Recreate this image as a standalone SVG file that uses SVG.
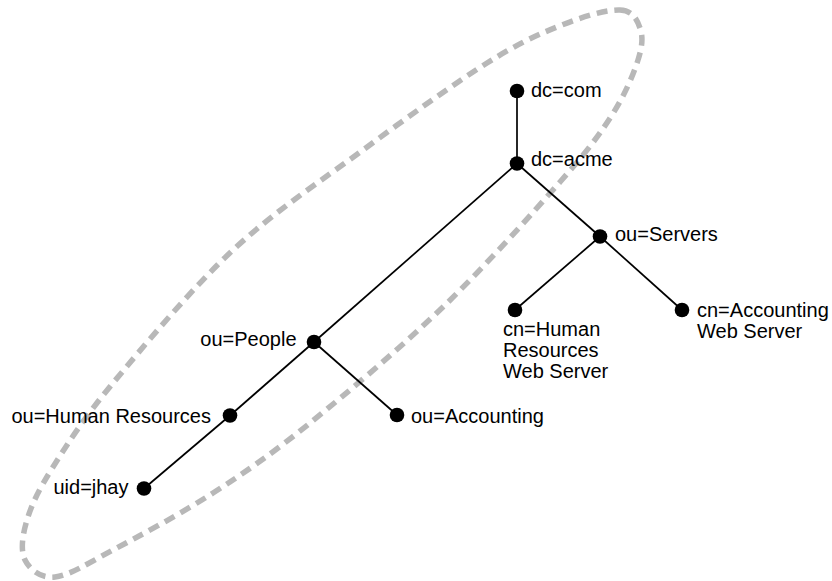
<svg xmlns="http://www.w3.org/2000/svg" width="832" height="581" viewBox="0 0 832 581">
<style>
.bg{fill:#ffffff}
.scope{fill:none;stroke:#b8b8b8;stroke-width:5.5;stroke-dasharray:11 7}
.edge{stroke:#000;stroke-width:1.7;fill:none}
.dot{fill:#000}
.lbl{font-family:"Liberation Sans",Arial,sans-serif;font-size:20px;fill:#000}
.end{text-anchor:end}
</style>
<rect class="bg" x="0" y="0" width="832" height="581"/>
<g id="scope">
<path class="scope" d="M620,10 C633,10.5 637,19.67 640,28 C643,36.33 642.67,45.5 638,60 C633.33,74.5 625,94.67 612,115 C599,135.33 588.17,150 560,182 C531.830,214 484.67,266.83 443,307 C401.33,347.17 348.33,392 310,423 C271.67,454 245.83,471.83 213,493 C180.17,514.17 139.33,536 113,550 C86.67,564 69.67,575.33 55,577 C40.33,578.67 29.67,569.5 25,560 C20.33,550.5 22.33,535.5 27,520 C31.67,504.5 38.67,489.83 53,467 C67.33,444.17 83,419.17 113,383 C143,346.83 191.33,288.83 233,250 C274.67,211.17 320.67,181.17 363,150 C405.33,118.83 453.83,83.83 487,63 C520.17,42.17 539.83,33.83 562,25 C584.17,16.17 607,9.5 620,10 Z"/>
</g>
<g id="connectors">
<line class="edge" x1="517" y1="91" x2="517" y2="163.5"/>
<line class="edge" x1="517" y1="163.5" x2="314" y2="342"/>
<line class="edge" x1="517" y1="163.5" x2="600" y2="236.5"/>
<line class="edge" x1="600" y1="236.5" x2="515" y2="310"/>
<line class="edge" x1="600" y1="236.5" x2="682" y2="310"/>
<line class="edge" x1="314" y1="342" x2="230" y2="415.5"/>
<line class="edge" x1="230" y1="415.5" x2="144" y2="488.5"/>
<line class="edge" x1="314" y1="342" x2="397" y2="415"/>
</g>
<g id="dc-com"><circle class="dot" cx="517" cy="91" r="7.3"/><text class="lbl" x="531" y="97">dc=com</text></g>
<g id="dc-acme"><circle class="dot" cx="517" cy="163.5" r="7.3"/><text class="lbl" x="531" y="166">dc=acme</text></g>
<g id="ou-servers"><circle class="dot" cx="600" cy="236.5" r="7.3"/><text class="lbl" x="615" y="241">ou=Servers</text></g>
<g id="cn-hr-web"><circle class="dot" cx="515" cy="310" r="7.3"/><text class="lbl" x="503" y="336">cn=Human</text><text class="lbl" x="503" y="357">Resources</text><text class="lbl" x="503" y="378">Web Server</text></g>
<g id="cn-acc-web"><circle class="dot" cx="682" cy="310" r="7.3"/><text class="lbl" x="697" y="317">cn=Accounting</text><text class="lbl" x="697" y="338">Web Server</text></g>
<g id="ou-people"><circle class="dot" cx="314" cy="342" r="7.3"/><text class="lbl end" x="296.5" y="345.5">ou=People</text></g>
<g id="ou-accounting"><circle class="dot" cx="397" cy="415" r="7.3"/><text class="lbl" x="411" y="422.5">ou=Accounting</text></g>
<g id="ou-hr"><circle class="dot" cx="230" cy="415.5" r="7.3"/><text class="lbl end" x="211" y="422.5">ou=Human Resources</text></g>
<g id="uid-jhay"><circle class="dot" cx="144" cy="488.5" r="7.3"/><text class="lbl end" x="128.5" y="493.5">uid=jhay</text></g>
</svg>
